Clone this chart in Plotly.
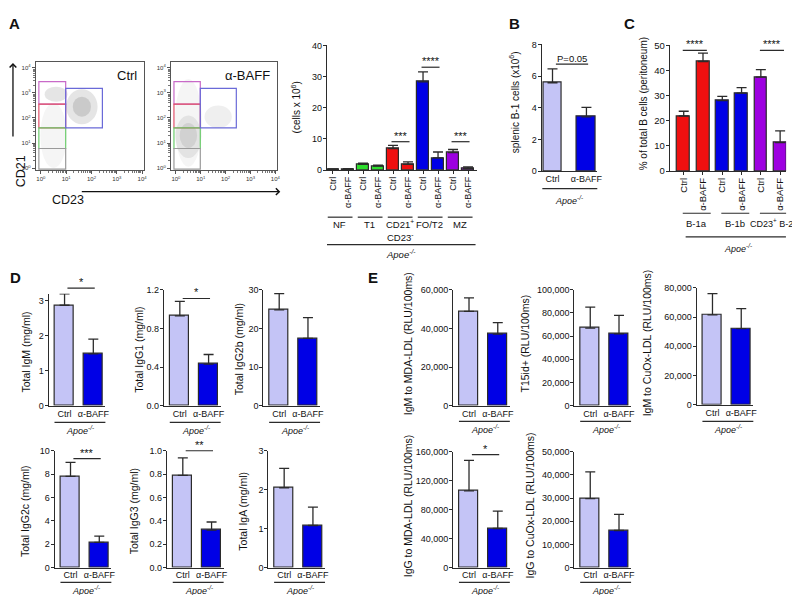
import math
import plotly.graph_objects as go

W, H = 800, 595
FONT = "Liberation Sans, Arial, Helvetica, sans-serif"
EDGE = "#2b2b2b"
TXT = "#111111"
LIGHT = "#c4c4f6"
BLUE = "#0000e6"
GREEN = "#2ede2e"
RED = "#ef1010"
PURPLE = "#9d00e0"
NFBLACK = "#111111"

conditions = ["Ctrl", "α-BAFF"]
apoe = "<i>Apoe<sup>-/-</sup></i>"

# ---------------- Panel A : flow plots (log10 units) ----------------
flow_labels = ["Ctrl", "α-BAFF"]
flow_decades = [0, 1, 2, 3, 4]
flow_decade_text = ["10<sup>0</sup>", "10<sup>1</sup>", "10<sup>2</sup>", "10<sup>3</sup>", "10<sup>4</sup>"]
gate_x0 = [-0.08, -0.08, -0.08, -0.08, 0.98]
gate_x1 = [0.98, 0.98, 0.98, 0.98, 2.43]
gate_y0 = [2.55, 1.60, 0.78, -0.04, 1.60]
gate_y1 = [3.45, 2.55, 1.60, 0.78, 3.18]
gate_colors = ["#c86ac8", "#e0506a", "#6ccc6c", "#9a9a9a", "#6a6ad8"]
# cell clouds: centre, radii (log10 units) and density shade
ctrl_cloud_x = [0.50, 0.60, 1.62, 1.62]
ctrl_cloud_y = [1.30, 2.95, 2.45, 2.45]
ctrl_cloud_rx = [0.52, 0.45, 0.62, 0.36]
ctrl_cloud_ry = [1.30, 0.30, 0.70, 0.40]
ctrl_cloud_op = [0.07, 0.18, 0.18, 0.22]
baff_cloud_x = [0.50, 0.50, 0.50, 1.70]
baff_cloud_y = [1.80, 1.25, 1.30, 2.05]
baff_cloud_rx = [0.55, 0.52, 0.35, 0.55]
baff_cloud_ry = [1.75, 0.85, 0.50, 0.45]
baff_cloud_op = [0.07, 0.13, 0.15, 0.11]

# ---------------- Panel A : bar chart ----------------
a_groups = ["NF", "T1", "CD21<sup>+</sup>", "FO/T2", "MZ"]
a_colors = [NFBLACK, GREEN, RED, BLUE, PURPLE]
a_ctrl = [0.2, 1.8, 6.9, 28.3, 5.6]
a_ctrl_err = [0.15, 0.4, 1.0, 3.2, 1.0]
a_baff = [0.3, 1.3, 1.8, 3.9, 0.5]
a_baff_err = [0.15, 0.3, 0.8, 1.9, 0.5]
a_sig_group = [2, 3, 4]
a_sig_text = ["***", "****", "***"]
a_sig_y = [9.1, 33.0, 9.1]

# ---------------- Panel B ----------------
b_vals = [5.58, 3.42]
b_err = [0.88, 0.60]
b_p_text = "P=0.05"
b_p_y = 6.75

# ---------------- Panel C ----------------
c_groups = ["B-1a", "B-1b", "CD23<sup>+</sup> B-2"]
c_colors = [RED, BLUE, PURPLE]
c_ctrl = [21.9, 28.0, 37.4]
c_ctrl_err = [1.9, 1.7, 3.0]
c_baff = [43.6, 31.0, 11.3]
c_baff_err = [3.3, 2.2, 4.7]
c_sig_group = [0, 2]
c_sig_text = ["****", "****"]
c_sig_y = [48.0, 48.0]

# ---------------- Panel D ----------------
d_titles = ["Total IgM (mg/ml)", "Total IgG1 (mg/ml)", "Total IgG2b (mg/ml)",
            "Total IgG2c (mg/ml)", "Total IgG3 (mg/ml)", "Total IgA (mg/ml)"]
d_ctrl = [2.87, 0.93, 24.8, 7.8, 0.79, 2.05]
d_ctrl_err = [0.33, 0.15, 4.2, 1.2, 0.15, 0.50]
d_baff = [1.48, 0.43, 17.4, 2.15, 0.32, 1.08]
d_baff_err = [0.42, 0.10, 5.4, 0.55, 0.07, 0.47]
d_ymax = [3.2, 1.2, 30, 10, 1.0, 3]
d_dtick = [1, 0.4, 10, 2, 0.2, 1]
d_fmt = ["d", ".1f", "d", "d", ".1f", "d"]
d_sig = ["*", "*", "", "***", "**", ""]
d_sig_y = [3.36, 1.11, 0, 9.33, 1.0, 0]

# ---------------- Panel E ----------------
e_titles = ["IgM to MDA-LDL (RLU/100ms)", "T15id+ (RLU/100ms)", "IgM to CuOx-LDL (RLU/100ms)",
            "IgG to MDA-LDL (RLU/100ms)", "IgG to CuOx-LDL (RLU/100ms)"]
e_ctrl = [48800, 67000, 61500, 106000, 29800]
e_ctrl_err = [7000, 18000, 14500, 42000, 11500]
e_baff = [37000, 62000, 52000, 54000, 16000]
e_baff_err = [6000, 16000, 13800, 24000, 7000]
e_ymax = [60000, 100000, 80000, 160000, 50000]
e_dtick = [20000, 20000, 20000, 40000, 10000]
e_sig = ["", "", "", "*", ""]
e_sig_y = [0, 0, 0, 156000, 0]

# ================= layout helpers =================
fig = go.Figure()
shapes, annotations = [], []
layout = {}
count = [0]


def py(p):
    return 1 - p / H


def make_axes(left, right, top, bottom, xrange, yrange, xextra, yextra):
    count[0] += 1
    k = count[0]
    s = "" if k == 1 else str(k)
    xa = dict(domain=[left / W, right / W], range=xrange, anchor="y" + s,
              showgrid=False, zeroline=False, fixedrange=True)
    ya = dict(domain=[1 - bottom / H, 1 - top / H], range=yrange, anchor="x" + s,
              showgrid=False, zeroline=False, fixedrange=True)
    xa.update(xextra)
    ya.update(yextra)
    layout["xaxis" + s] = xa
    layout["yaxis" + s] = ya
    fig.add_trace(go.Scatter(x=[], y=[], xaxis="x" + s, yaxis="y" + s, showlegend=False))
    return "x" + s, "y" + s


def bar_x(tickvals, ticktext, angle=0, ticks="", size=9):
    return dict(showline=True, linecolor=EDGE, linewidth=1.2, tickmode="array",
                tickvals=tickvals, ticktext=ticktext, tickangle=angle, ticks=ticks,
                ticklen=3, tickcolor=EDGE, tickfont=dict(size=size, color=TXT),
                ticklabelstandoff=-1)


def bar_y(dtick, fmt, size=9):
    return dict(showline=True, linecolor=EDGE, linewidth=1.2, ticks="outside", ticklen=3,
                tickcolor=EDGE, tickwidth=1.2, dtick=dtick, tick0=0, tickformat=fmt,
                tickfont=dict(size=size, color=TXT), ticklabelstandoff=-1)


def add_bars(xr, yr, xpos, vals, errs, colors, width):
    fig.add_trace(go.Bar(
        x=xpos, y=vals, width=width,
        marker=dict(color=colors, line=dict(color=EDGE, width=1.2)),
        error_y=dict(type="data", array=errs, arrayminus=[0] * len(errs), symmetric=False,
                     color=EDGE, thickness=1.3, width=5),
        xaxis=xr, yaxis=yr, showlegend=False, hoverinfo="skip"))


def add_sig(xr, yr, x0, x1, value, ymax, text, size=11):
    frac = value / ymax
    shapes.append(dict(type="line", xref=xr, yref=yr + " domain", x0=x0, x1=x1, y0=frac, y1=frac,
                       line=dict(color=EDGE, width=1.2)))
    annotations.append(dict(xref=xr, yref=yr + " domain", x=(x0 + x1) / 2, y=frac, text=text,
                            showarrow=False, yanchor="bottom", yshift=-2,
                            font=dict(size=size, color=TXT)))


def add_underline(xr, x0, x1, ypx, color=EDGE):
    shapes.append(dict(type="line", xref=xr, yref="paper", x0=x0, x1=x1, y0=py(ypx), y1=py(ypx),
                       line=dict(color=color, width=1.2)))


def add_text(xref, x, ypx, text, size=9, **kw):
    d = dict(xref=xref, yref="paper", x=x, y=py(ypx), text=text, showarrow=False,
             font=dict(size=size, color=TXT), xanchor="center", yanchor="middle")
    d.update(kw)
    annotations.append(d)


def add_ytitle(xpx, ypx, text, size=10.5):
    annotations.append(dict(xref="paper", yref="paper", x=xpx / W, y=py(ypx), text=text,
                            showarrow=False, textangle=-90, font=dict(size=size, color=TXT),
                            xanchor="center", yanchor="middle"))


# ================= Panel A flow plots =================
minor_vals = []
for d in range(0, 4):
    for m in range(2, 10):
        minor_vals.append(d + math.log10(m))

flow_left = [28, 164]
flow_right = [137, 271]
clouds = [(ctrl_cloud_x, ctrl_cloud_y, ctrl_cloud_rx, ctrl_cloud_ry, ctrl_cloud_op),
          (baff_cloud_x, baff_cloud_y, baff_cloud_rx, baff_cloud_ry, baff_cloud_op)]
for i in range(2):
    fax = dict(showline=True, mirror=True, linecolor="#555555", linewidth=1, ticks="outside",
               ticklen=3, tickcolor="#555555", tickmode="array", tickvals=flow_decades,
               ticktext=flow_decade_text, tickfont=dict(size=6, color="#333333"),
               minor=dict(tickmode="array", tickvals=minor_vals, ticks="outside", ticklen=2,
                          tickcolor="#777777"))
    xr, yr = make_axes(flow_left[i], flow_right[i], 49, 159, [-0.2, 4.08], [-0.08, 4.23],
                       dict(fax), dict(fax))
    cx, cy, rx, ry, op = clouds[i]
    for j in range(len(cx)):
        shapes.append(dict(type="circle", xref=xr, yref=yr, x0=cx[j] - rx[j], x1=cx[j] + rx[j],
                           y0=cy[j] - ry[j], y1=cy[j] + ry[j], layer="below",
                           fillcolor="rgba(110,110,110,%.2f)" % op[j], line=dict(width=0)))
    for j in range(len(gate_x0)):
        shapes.append(dict(type="rect", xref=xr, yref=yr, x0=gate_x0[j], x1=gate_x1[j],
                           y0=gate_y0[j], y1=gate_y1[j], line=dict(color=gate_colors[j], width=1.2),
                           fillcolor="rgba(0,0,0,0)"))
    annotations.append(dict(xref=xr + " domain", yref=yr + " domain", x=0.95, y=0.96,
                            text=flow_labels[i], showarrow=False, xanchor="right", yanchor="top",
                            font=dict(size=13, color=TXT)))

annotations.append(dict(xref="paper", yref="paper", x=4 / W, y=py(142), text="CD21",
                        showarrow=False, textangle=-90, font=dict(size=12.5, color=TXT)))
annotations.append(dict(xref="paper", yref="paper", x=42 / W, y=py(180), text="CD23",
                        showarrow=False, font=dict(size=12.5, color=TXT)))
annotations.append(dict(xref="paper", yref="paper", x=5 / W, y=py(50), text="", showarrow=True,
                        ax=0, ay=75, arrowhead=4, arrowsize=1, arrowwidth=1.3, arrowcolor=TXT))
annotations.append(dict(xref="paper", yref="paper", x=274 / W, y=py(181), text="", showarrow=True,
                        ax=-200, ay=0, arrowhead=4, arrowsize=1, arrowwidth=1.3, arrowcolor=TXT))

# ================= Panel A bar chart =================
a_x, a_y, a_err, a_col, a_lab = [], [], [], [], []
for g in range(len(a_groups)):
    a_x += [2 * g, 2 * g + 1]
    a_y += [a_ctrl[g], a_baff[g]]
    a_err += [a_ctrl_err[g], a_baff_err[g]]
    a_col += [a_colors[g], a_colors[g]]
    a_lab += conditions
xr, yr = make_axes(321, 472, 32, 159, [-0.4, 9.6], [0, 40],
                   bar_x(a_x, a_lab, angle=-90, ticks="outside", size=9), bar_y(10, "d"))
add_bars(xr, yr, a_x, a_y, a_err, a_col, 0.75)
for g, t, v in zip(a_sig_group, a_sig_text, a_sig_y):
    add_sig(xr, yr, 2 * g - 0.1, 2 * g + 1.1, v, 40, t)
for g in range(len(a_groups)):
    add_underline(xr, 2 * g - 0.35, 2 * g + 1.3, 207)
    add_text(xr, 2 * g + 0.45, 214, a_groups[g], size=9.5)
add_text(xr, 4.5, 227, "CD23<sup>-</sup>", size=9.5)
add_underline(xr, -0.4, 9.5, 235)
add_text(xr, 4.5, 245, apoe, size=9.5)
add_ytitle(290, 95, "(cells x 10<sup>6</sup>)", size=10)

# ================= Panel B =================
xr, yr = make_axes(537, 593, 31, 160, [-0.32, 1.32], [0, 8],
                   bar_x([0, 1], conditions), bar_y(2, "d"))
add_bars(xr, yr, [0, 1], b_vals, b_err, [LIGHT, BLUE], 0.55)
add_sig(xr, yr, 0.1, 1.05, b_p_y, 8, b_p_text, size=9.5)
add_underline(xr, -0.3, 1.35, 178)
add_text(xr, 0.5, 189, apoe)
add_ytitle(510, 90, "splenic B-1 cells (x10<sup>6</sup>)", size=10)

# ================= Panel C =================
c_x, c_y, c_err, c_col, c_lab = [], [], [], [], []
for g in range(len(c_groups)):
    c_x += [2 * g, 2 * g + 1]
    c_y += [c_ctrl[g], c_baff[g]]
    c_err += [c_ctrl_err[g], c_baff_err[g]]
    c_col += [c_colors[g], c_colors[g]]
    c_lab += conditions
xr, yr = make_axes(666, 783, 32, 160, [-0.72, 5.31], [0, 50],
                   bar_x(c_x, c_lab, angle=-90, ticks="outside", size=9.5), bar_y(10, "d", size=9.5))
add_bars(xr, yr, c_x, c_y, c_err, c_col, 0.67)
for g, t, v in zip(c_sig_group, c_sig_text, c_sig_y):
    add_sig(xr, yr, 2 * g - 0.05, 2 * g + 1.2, v, 50, t)
for g in range(len(c_groups)):
    add_underline(xr, 2 * g - 0.05, 2 * g + 1.4, 203)
    if g < 2:
        add_text(xr, 2 * g + 0.65, 213, c_groups[g], size=9.5)
    else:
        add_text("paper", 745 / W, 213, c_groups[g], size=9, xanchor="left")
add_underline(xr, 0.1, 5.3, 227)
add_text(xr, 2.8, 238, apoe)
add_ytitle(639, 92, "% of total B cells (peritoneum)", size=10)

# ================= Panel D =================
d_left = [41, 157, 257, 47, 160, 262]
d_top = [285, 281, 281, 445, 445, 445]
d_bottom = [399, 399, 399, 564, 564, 564]
d_line = [416, 416, 416, 579, 579, 579]
d_title_x = [18, 132, 232, 17, 127, 237]
for i in range(6):
    xr, yr = make_axes(d_left[i], d_left[i] + 57, d_top[i], d_bottom[i], [-0.55, 1.42],
                       [0, d_ymax[i]], bar_x([0, 1], conditions), bar_y(d_dtick[i], d_fmt[i]))
    add_bars(xr, yr, [0, 1], [d_ctrl[i], d_baff[i]], [d_ctrl_err[i], d_baff_err[i]],
             [LIGHT, BLUE], 0.65)
    if d_sig[i]:
        add_sig(xr, yr, 0.1, 1.05, d_sig_y[i], d_ymax[i], d_sig[i])
    add_underline(xr, -0.35, 1.45, d_line[i])
    add_text(xr, 0.55, d_line[i] + 7.5, apoe)
    add_ytitle(d_title_x[i], (d_top[i] + d_bottom[i]) / 2 + 2, d_titles[i])

# ================= Panel E =================
e_left = [448, 570, 693, 448, 570]
e_top = [281, 281, 279, 446, 446]
e_bottom = [399, 399, 398, 564, 564]
e_line = [415, 415, 415, 579, 579]
e_title_x = [402, 520, 643, 402, 525]
for i in range(5):
    xr, yr = make_axes(e_left[i], e_left[i] + 57, e_top[i], e_bottom[i], [-0.55, 1.42],
                       [0, e_ymax[i]], bar_x([0, 1], conditions), bar_y(e_dtick[i], ",d"))
    add_bars(xr, yr, [0, 1], [e_ctrl[i], e_baff[i]], [e_ctrl_err[i], e_baff_err[i]],
             [LIGHT, BLUE], 0.65)
    if e_sig[i]:
        add_sig(xr, yr, 0.1, 1.05, e_sig_y[i], e_ymax[i], e_sig[i])
    add_underline(xr, -0.35, 1.45, e_line[i])
    add_text(xr, 0.55, e_line[i] + 7.5, apoe)
    add_ytitle(e_title_x[i], (e_top[i] + e_bottom[i]) / 2 - 4, e_titles[i])

# ================= panel letters =================
for letter, x, y in [("A", 7, 10), ("B", 510, 10), ("C", 625, 10), ("D", 8, 268), ("E", 367, 268)]:
    annotations.append(dict(xref="paper", yref="paper", x=x / W, y=py(y), text="<b>%s</b>" % letter,
                            showarrow=False, xanchor="center", yanchor="middle",
                            font=dict(size=15, color=TXT)))

fig.update_layout(**layout)
fig.update_layout(width=W, height=H, margin=dict(l=0, r=0, t=0, b=0), autosize=False,
                  paper_bgcolor="white", plot_bgcolor="white", showlegend=False, bargap=0,
                  font=dict(family=FONT, color=TXT), shapes=shapes, annotations=annotations)
fig.write_html("out.html")
